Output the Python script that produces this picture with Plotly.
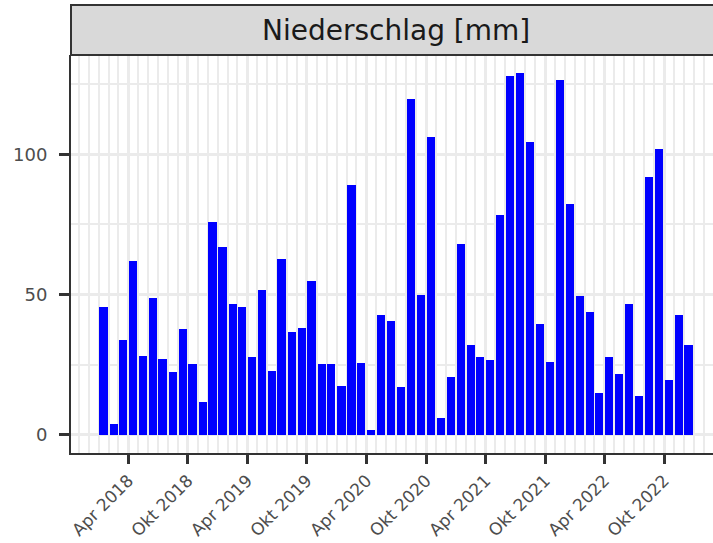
"""Monthly precipitation bar chart (ggplot-style facet strip)."""

import plotly.graph_objects as go

YEARS = [2018, 2019, 2020, 2021, 2022]
MONTHS = [f"{y}-{m:02d}-15" for y in YEARS for m in range(1, 13)]

NIEDERSCHLAG_MM = [
    45.5, 3.8, 33.9, 62.0, 28.0, 48.7, 26.9, 22.4, 37.7, 25.2, 11.7, 76.0,
    66.8, 46.5, 45.7, 27.9, 51.5, 22.7, 62.5, 36.7, 38.2, 55.0, 25.2, 25.2,
    17.6, 89.0, 25.5, 1.8, 42.7, 40.6, 17.0, 119.6, 49.8, 106.0, 5.9, 20.8,
    68.1, 32.0, 27.7, 26.8, 78.3, 128.0, 128.9, 104.2, 39.6, 26.0, 126.4, 82.4,
    49.4, 43.7, 15.1, 27.7, 21.8, 46.8, 14.0, 91.9, 101.7, 19.5, 42.6, 31.9,
]

TICK_DATES = [f"{y}-{m}-01" for y in YEARS for m in ("04", "10")]
TICK_TEXT = [f"{name} {y}" for y in YEARS for name in ("Apr", "Okt")]

STRIP_TITLE = "Niederschlag [mm]"

FONT = "DejaVu Sans"
GRID = "#EBEBEB"
DARK = "#333333"

BAR_WIDTH_MS = 25.2 * 86400000

fig = go.Figure(
    go.Bar(
        x=MONTHS,
        y=NIEDERSCHLAG_MM,
        width=[BAR_WIDTH_MS] * len(MONTHS),
        marker={"color": "#0000FF", "line": {"width": 0}},
        showlegend=False,
    )
)

panel_h = 398
strip_h = 50

fig.update_layout(
    width=713,
    height=543,
    margin={"l": 71, "r": 0, "t": 55, "b": 90},
    paper_bgcolor="white",
    plot_bgcolor="white",
    font={"family": FONT, "color": "#4D4D4D"},
    bargap=0,
    xaxis={
        "type": "date",
        "automargin": False,
        "range": ["2017-10-07", "2023-02-28"],
        "tickmode": "array",
        "tickvals": TICK_DATES,
        "ticktext": TICK_TEXT,
        "tickangle": -45,
        "tickfont": {"size": 17, "color": "#4D4D4D"},
        "ticks": "outside",
        "ticklen": 9,
        "tickwidth": 2.5,
        "tickcolor": DARK,
        "showgrid": True,
        "gridcolor": GRID,
        "gridwidth": 2.5,
        "minor": {
            "tickmode": "linear",
            "tick0": "2017-01-01",
            "dtick": "M1",
            "showgrid": True,
            "gridcolor": GRID,
            "gridwidth": 1.5,
            "ticks": "",
        },
        "showline": True,
        "linecolor": DARK,
        "linewidth": 2,
        "zeroline": False,
        "layer": "below traces",
    },
    yaxis={
        "automargin": False,
        "range": [-6.45, 135.35],
        "tickmode": "linear",
        "tick0": 0,
        "dtick": 50,
        "tickfont": {"size": 18, "color": "#4D4D4D"},
        "ticks": "outside",
        "ticklen": 10,
        "tickwidth": 2.5,
        "tickcolor": DARK,
        "ticklabelstandoff": 8,
        "showgrid": True,
        "gridcolor": GRID,
        "gridwidth": 2.5,
        "minor": {
            "tickmode": "linear",
            "tick0": 0,
            "dtick": 25,
            "showgrid": True,
            "gridcolor": GRID,
            "gridwidth": 1.5,
            "ticks": "",
        },
        "showline": True,
        "linecolor": DARK,
        "linewidth": 2,
        "zeroline": False,
        "layer": "below traces",
    },
    shapes=[
        {
            "type": "rect",
            "xref": "paper",
            "yref": "paper",
            "x0": 0,
            "x1": 1.05,
            "y0": 1,
            "y1": 1 + strip_h / panel_h,
            "fillcolor": "#D9D9D9",
            "line": {"color": DARK, "width": 2},
            "layer": "above",
        }
    ],
    annotations=[
        {
            "text": STRIP_TITLE,
            "xref": "paper",
            "yref": "paper",
            "x": 0.506,
            "y": 1 + (strip_h / 2) / panel_h,
            "xanchor": "center",
            "yanchor": "middle",
            "showarrow": False,
            "font": {"family": FONT, "size": 28, "color": "#1A1A1A"},
        }
    ],
)

# the page's default 8px body margin would shift the whole figure
fig.write_html(
    "out.html",
    config={"displayModeBar": False},
    post_script="document.body.style.margin = '0';",
)
